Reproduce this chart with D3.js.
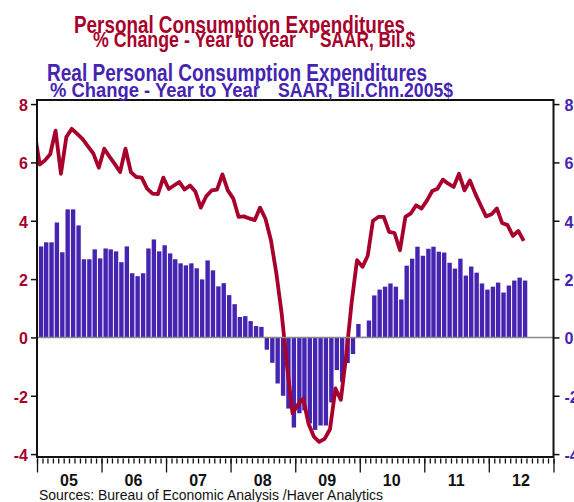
<!DOCTYPE html>
<html>
<head>
<meta charset="utf-8">
<script src="https://cdn.jsdelivr.net/npm/d3@7"></script>
<style>
  html, body { margin: 0; padding: 0; background: #fff; }
  svg { display: block; font-family: "Liberation Sans", Arial, sans-serif; }
</style>
</head>
<body>
<div id="chart"></div>
<script>
// monthly series, first value is Dec 2004, last is Jul 2012
const FIRST_MONTH = new Date(2004, 11, 1)

// Personal Consumption Expenditures, % change yoy (line, left axis)
const pceYoY = [
  7.1,
  5.93, 6.07, 6.28, 7.09, 5.61, 6.87, 7.15, 6.98, 6.80, 6.55, 6.30, 5.82,
  6.47, 6.20, 5.95, 5.67, 6.47, 5.67, 5.50, 5.48, 5.10, 4.93, 4.91, 5.48,
  5.09, 5.21, 5.33, 5.07, 5.21, 5.00, 4.45, 4.84, 5.04, 5.07, 5.59, 5.04,
  4.76, 4.13, 4.15, 4.08, 4.02, 4.45, 4.07, 3.33, 2.20, 0.80, -1.00, -2.60,
  -2.30, -2.10, -2.95, -3.40, -3.58, -3.48, -3.15, -1.75, -2.14, -0.60, 1.20, 2.65,
  2.42, 2.80, 4.00, 4.13, 4.13, 3.62, 3.58, 2.99, 4.13, 4.25, 4.53, 4.42,
  4.70, 5.02, 5.10, 5.41, 5.27, 5.16, 5.61, 5.04, 5.38, 4.93, 4.53, 4.15,
  4.22, 4.42, 3.92, 3.85, 3.48, 3.65, 3.31
]

// Real Personal Consumption Expenditures, % change yoy (bars, right axis)
const realPceYoY = [
  3.53,
  3.12, 3.26, 3.26, 3.94, 2.92, 4.39, 4.39, 3.84, 2.68, 2.68, 3.02, 2.71,
  3.05, 3.02, 2.95, 2.58, 3.12, 2.20, 2.10, 2.20, 3.05, 3.36, 2.95, 3.16,
  2.88, 2.68, 2.54, 2.47, 2.54, 2.37, 1.99, 2.64, 2.30, 1.75, 1.86, 1.45,
  1.14, 0.70, 0.73, 0.56, 0.39, 0.36, -0.42, -0.87, -1.58, -2.00, -2.44, -3.09,
  -2.60, -2.50, -2.95, -3.17, -3.02, -3.02, -2.23, -1.12, -1.52, -0.88, -0.57, 0.46,
  0.02, 0.58, 1.44, 1.64, 1.74, 1.85, 1.74, 1.30, 2.46, 2.70, 3.11, 2.80,
  3.04, 3.11, 2.94, 2.91, 2.56, 2.36, 2.70, 2.12, 2.43, 2.22, 1.85, 1.64,
  1.74, 1.88, 1.54, 1.78, 1.95, 2.05, 1.95
]

const yTicks = [-4, -2, 0, 2, 4, 6, 8]
const yearLabels = ['05', '06', '07', '08', '09', '10', '11', '12']

const RED = '#a8002c'
const PURPLE = '#4524b2'

const W = 574, H = 502
const plot = { left: 37, right: 553.5, top: 100, bottom: 457 }

const svg = d3.select('#chart').append('svg')
  .attr('width', W)
  .attr('height', H)

const x = d3.scaleTime()
  .domain([new Date(2005, 0, 1), new Date(2013, 0, 1)])
  .range([plot.left, plot.right])

const y = d3.scaleLinear()
  .domain([-4.1, 8.14])
  .range([plot.bottom, plot.top])

// position inside a month, frac 0..1
const monthPos = (i, frac) => {
  const d0 = d3.timeMonth.offset(FIRST_MONTH, i)
  const d1 = d3.timeMonth.offset(FIRST_MONTH, i + 1)
  return x(new Date(+d0 + frac * (d1 - d0)))
}
const monthW = x(new Date(2005, 1, 1)) - x(new Date(2005, 0, 1))

svg.append('defs').append('clipPath').attr('id', 'plotclip')
  .append('rect')
  .attr('x', plot.left + 1).attr('y', plot.top)
  .attr('width', plot.right - plot.left - 1)
  .attr('height', plot.bottom - plot.top)

const g = svg.append('g').attr('clip-path', 'url(#plotclip)')

// bars
const barW = monthW * 0.8
g.selectAll('rect.bar')
  .data(realPceYoY)
  .enter()
  .append('rect')
  .attr('class', 'bar')
  .attr('x', (d, i) => monthPos(i, 0.75) - barW / 2)
  .attr('y', d => y(Math.max(0, d)))
  .attr('width', barW)
  .attr('height', d => Math.abs(y(d) - y(0)))
  .attr('fill', PURPLE)

// zero line
svg.append('line')
  .attr('x1', plot.left).attr('x2', plot.right)
  .attr('y1', y(0)).attr('y2', y(0))
  .attr('stroke', '#8a8a8a')
  .attr('stroke-width', 1.5)

// line
const line = d3.line()
  .x((d, i) => monthPos(i, 0.5))
  .y(d => y(d))

g.append('path')
  .datum(pceYoY)
  .attr('d', line)
  .attr('fill', 'none')
  .attr('stroke', RED)
  .attr('stroke-width', 3.8)
  .attr('stroke-linejoin', 'round')

// frame
svg.append('rect')
  .attr('x', plot.left).attr('y', plot.top)
  .attr('width', plot.right - plot.left)
  .attr('height', plot.bottom - plot.top)
  .attr('fill', 'none')
  .attr('stroke', '#111')
  .attr('stroke-width', 2)

// y axes
const leftAxis = svg.append('g')
  .attr('transform', `translate(${plot.left},0)`)
  .call(d3.axisLeft(y).tickValues(yTicks).tickSize(6).tickPadding(3).tickFormat(d => String(d)))
const rightAxis = svg.append('g')
  .attr('transform', `translate(${plot.right},0)`)
  .call(d3.axisRight(y).tickValues(yTicks).tickSize(6).tickPadding(5).tickFormat(d => String(d)))

;[[leftAxis, RED], [rightAxis, PURPLE]].forEach(([ax, col]) => {
  ax.select('.domain').remove()
  ax.selectAll('.tick line').attr('stroke', '#111').attr('stroke-width', 1.5)
  ax.selectAll('.tick text')
    .attr('fill', col)
    .attr('font-size', 16)
    .attr('font-weight', 'bold')
    .attr('dy', '0.4em')
})

// x axis: monthly minor ticks and yearly major ticks
const xMinor = svg.append('g')
  .attr('transform', `translate(0,${plot.bottom + 1.5})`)
  .call(d3.axisBottom(x).ticks(d3.timeMonth.every(1)).tickSize(5).tickFormat(''))
const xMajor = svg.append('g')
  .attr('transform', `translate(0,${plot.bottom + 1.5})`)
  .call(d3.axisBottom(x).ticks(d3.timeYear.every(1)).tickSize(14).tickFormat(''))
;[xMinor, xMajor].forEach(ax => {
  ax.select('.domain').remove()
  ax.selectAll('.tick line').attr('stroke', '#111').attr('stroke-width', 1.3)
})

svg.selectAll('text.year')
  .data(yearLabels)
  .enter()
  .append('text')
  .attr('class', 'year')
  .attr('x', (d, i) => x(new Date(2005 + i, 6, 1)))
  .attr('y', 486)
  .attr('text-anchor', 'middle')
  .attr('font-size', 16)
  .attr('font-weight', 'bold')
  .attr('fill', '#111')
  .text(d => d)

// titles (condensed face imitated with textLength)
const addText = (txt, x0, yb, size, len, col, weight) => {
  svg.append('text')
    .attr('x', x0).attr('y', yb)
    .attr('font-size', size)
    .attr('font-weight', weight || 'normal')
    .attr('fill', col)
    .attr('textLength', len)
    .attr('lengthAdjust', 'spacingAndGlyphs')
    .text(txt)
}

addText('Personal Consumption Expenditures', 74, 32.5, 24, 331, RED, 'bold')
addText('% Change - Year to Year', 93, 46.5, 22, 203, RED, 'bold')
addText("'", 312, 38, 14, 3, RED, 'bold')
addText('SAAR, Bil.$', 320, 46.5, 22, 95, RED, 'bold')

addText('Real Personal Consumption Expenditures', 47, 80.5, 23, 380, PURPLE, 'bold')
addText('% Change - Year to Year', 50, 96.5, 21, 210, PURPLE, 'bold')
addText("'", 267, 88, 14, 3, PURPLE, 'bold')
addText('SAAR, Bil.Chn.2005$', 278, 96.5, 21, 175, PURPLE, 'bold')

addText('Sources:  Bureau of Economic Analysis /Haver Analytics', 39, 500, 15.5, 344, '#111')
</script>
</body>
</html>
